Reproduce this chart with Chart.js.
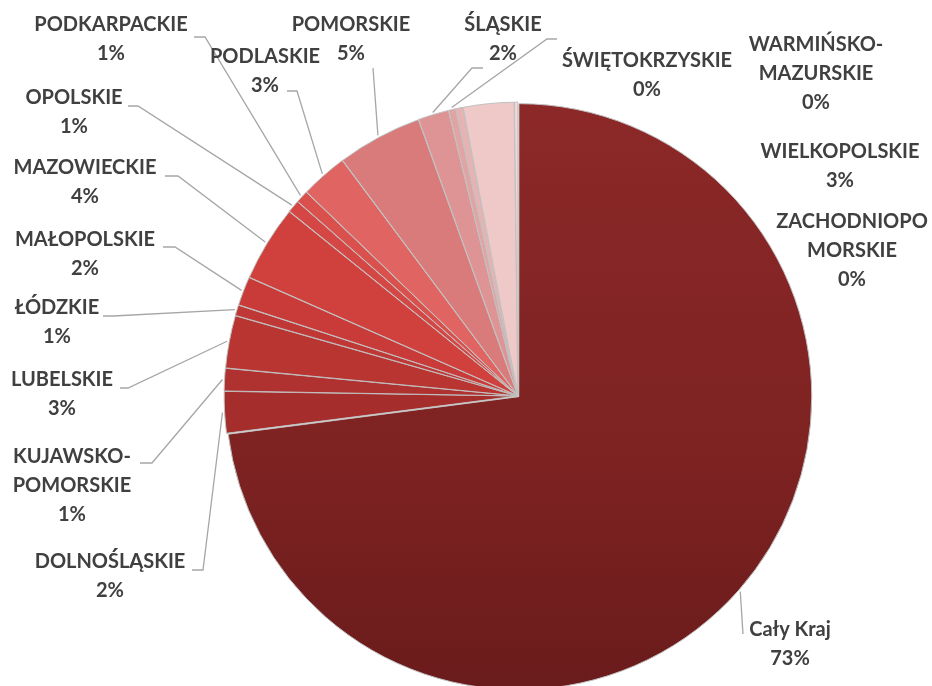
<!DOCTYPE html>
<html>
<head>
<meta charset="utf-8">
<script src="https://cdn.jsdelivr.net/npm/chart.js@4"></script>
<style>
  html, body { margin: 0; padding: 0; background: #fff; }
  #wrap { width: 932px; height: 686px; position: relative; }
</style>
</head>
<body>
<div id="wrap"><canvas id="c" width="932" height="686"></canvas></div>
<script>
// categories (line breaks as shown on the chart)
const regions = [
  ["Cały Kraj"], ["DOLNOŚLĄSKIE"], ["KUJAWSKO-", "POMORSKIE"], ["LUBELSKIE"],
  ["ŁÓDZKIE"], ["MAŁOPOLSKIE"], ["MAZOWIECKIE"], ["OPOLSKIE"], ["PODKARPACKIE"],
  ["PODLASKIE"], ["POMORSKIE"], ["ŚLĄSKIE"], ["ŚWIĘTOKRZYSKIE"],
  ["WARMIŃSKO-", "MAZURSKIE"], ["WIELKOPOLSKIE"], ["ZACHODNIOPO", "MORSKIE"]
];
// share of each slice
const shares = [73.0, 2.3, 1.25, 2.9, 0.6, 1.6, 4.2, 0.7, 0.7, 2.6, 4.7, 1.7, 0.4, 0.4, 2.8, 0.2];

const sliceColors = [
  "#862626", "#a52e2c", "#b03230", "#b83532", "#c03835", "#c83b38", "#d0403d", "#d44744",
  "#d9504d", "#e06462", "#d97b7b", "#de9494", "#e2a3a3", "#e6b2b2", "#efc8c8", "#f3d6d6"
];

// label layout: centre of first text line, leader start, elbow (or null)
const labelAt = [
  [790, 630], [110, 562], [72, 457], [62, 380], [57, 308], [85, 240], [85, 168], [74, 98],
  [111, 25], [265, 57], [351, 25], [503, 25], [647, 61], [816, 45], [840, 152], [852, 222]
];
const leaderFrom = [
  [743, 634], [192, 570], [140, 463], [120, 388], [103, 316], [163, 247], [165, 176], [128, 106],
  [194, 37], [287, 91], [373, 68], [483, 68], [557, 39], null, null, null
];
const leaderElbow = [
  null, [203, 570], [152, 463], [128, 388], [113, 316], [175, 247], [178, 176], [138, 106],
  [205, 37], [297, 91], null, [472, 68], [547, 39], null, null, null
];

const total = shares.reduce((a, b) => a + b, 0);

const labelPlugin = {
  id: "pieLabels",
  afterDatasetsDraw(chart) {
    const { ctx } = chart;
    const meta = chart.getDatasetMeta(0);
    ctx.save();
    // leader lines
    ctx.strokeStyle = "#a6a6a6";
    ctx.lineWidth = 1.3;
    meta.data.forEach((arc, i) => {
      if (!leaderFrom[i]) return;
      const p = arc.getProps(["x", "y", "startAngle", "endAngle", "outerRadius"], true);
      const mid = (p.startAngle + p.endAngle) / 2;
      const r = p.outerRadius + (arc.options.offset || 0);
      const ex = p.x + Math.cos(mid) * r;
      const ey = p.y + Math.sin(mid) * r;
      ctx.beginPath();
      ctx.moveTo(leaderFrom[i][0], leaderFrom[i][1]);
      if (leaderElbow[i]) ctx.lineTo(leaderElbow[i][0], leaderElbow[i][1]);
      ctx.lineTo(ex, ey);
      ctx.stroke();
    });
    // text
    ctx.fillStyle = "#404040";
    ctx.font = "bold 20px Lato, 'Open Sans', sans-serif";
    ctx.textAlign = "center";
    ctx.textBaseline = "middle";
    regions.forEach((lines, i) => {
      const [x, y] = labelAt[i];
      lines.forEach((t, k) => ctx.fillText(t, x, y + k * 29));
      const pct = Math.round(shares[i] / total * 100) + "%";
      ctx.fillText(pct, x, y + lines.length * 29);
    });
    ctx.restore();
  }
};

new Chart(document.getElementById("c"), {
  type: "pie",
  data: {
    labels: regions,
    datasets: [{
      data: shares,
      backgroundColor: (c) => {
        const i = c.dataIndex;
        if (i !== 0 || !c.chart.chartArea) return sliceColors[i];
        const g = c.chart.ctx.createLinearGradient(0, 100, 0, 690);
        g.addColorStop(0, "#8c2828");
        g.addColorStop(0.6, "#7e2222");
        g.addColorStop(1, "#6a1b1b");
        return g;
      },
      borderColor: "#c0c0c0",
      borderWidth: 1,
      offset: 4,
      hoverOffset: 0
    }]
  },
  options: {
    responsive: false,
    animation: false,
    radius: 292,
    layout: { padding: { left: 104, right: 0, top: 106, bottom: 0 } },
    plugins: {
      legend: { display: false },
      tooltip: { enabled: false }
    },
    events: []
  },
  plugins: [labelPlugin]
});
</script>
</body>
</html>
